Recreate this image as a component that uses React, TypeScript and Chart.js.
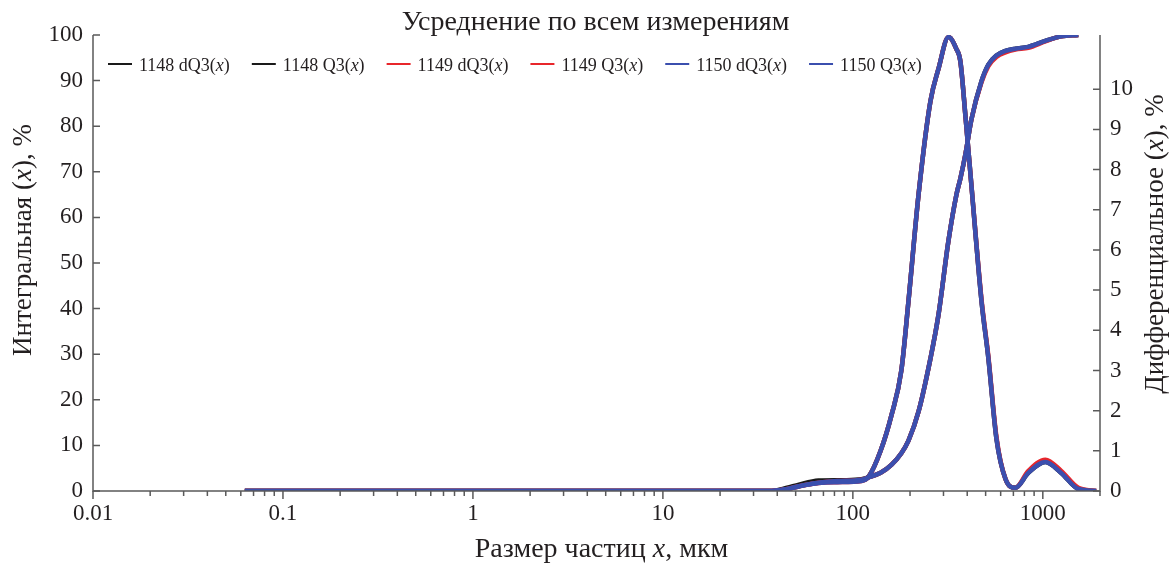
import React, { useEffect, useRef } from 'react';
import { Chart, registerables } from 'chart.js';

Chart.register(...registerables);

const chartTitle = 'Усреднение по всем измерениям';
const xAxisTitle = 'Размер частиц x, мкм';
const leftAxisTitle = 'Интегральная (x), %';
const rightAxisTitle = 'Дифференциальное (x), %';

// particle size, µm
const sizes = [0.063, 37.4, 45, 52, 66, 83, 111, 121, 140, 160, 180, 196, 222, 256, 282, 319, 351, 368, 392, 421, 475, 517, 570, 636, 717, 839, 1031, 1250, 1538, 1910];

// differential dQ3, % (right axis)
const dQ3_1148 = [0, 0, 0.08, 0.16, 0.26, 0.27, 0.27, 0.36, 1.0, 1.9, 3.0, 4.7, 7.4, 9.7, 10.5, 11.3, 11.0, 10.7, 9.3, 7.6, 4.75, 3.3, 1.3, 0.3, 0.08, 0.45, 0.72, 0.45, 0.05, 0];
const dQ3_1149 = [0, 0, 0.05, 0.12, 0.2, 0.22, 0.25, 0.35, 1.0, 1.9, 3.0, 4.7, 7.4, 9.7, 10.5, 11.3, 11.0, 10.7, 9.3, 7.6, 4.8, 3.35, 1.35, 0.3, 0.08, 0.5, 0.78, 0.5, 0.08, 0];
const dQ3_1150 = [0, 0, 0.05, 0.12, 0.2, 0.22, 0.25, 0.35, 1.0, 1.9, 3.0, 4.7, 7.4, 9.7, 10.5, 11.3, 11.0, 10.7, 9.3, 7.6, 4.75, 3.3, 1.3, 0.3, 0.08, 0.45, 0.72, 0.45, 0.05, 0];

// cumulative Q3, % (left axis)
const Q3_1148 = [0, 0, 0.5, 1.1, 1.9, 2.3, 2.6, 3.0, 4.0, 5.8, 8.3, 11, 17.5, 29, 38.5, 55, 65, 68.5, 74, 81.5, 89.8, 93.5, 95.5, 96.5, 97, 97.4, 98.7, 99.7, 100, null];
const Q3_1149 = [0, 0, 0.4, 1.0, 1.8, 2.2, 2.5, 3.0, 4.0, 5.8, 8.3, 11, 17.5, 29, 38.5, 55, 65, 68.5, 74, 81.5, 89.6, 93.2, 95.2, 96.2, 96.8, 97.2, 98.6, 99.7, 100, null];
const Q3_1150 = [0, 0, 0.4, 1.0, 1.8, 2.2, 2.5, 3.0, 4.0, 5.8, 8.3, 11, 17.5, 29, 38.5, 55, 65, 68.5, 74, 81.5, 89.8, 93.5, 95.5, 96.5, 97, 97.4, 98.7, 99.7, 100, null];

const seriesNames = ['1148 dQ3(x)', '1148 Q3(x)', '1149 dQ3(x)', '1149 Q3(x)', '1150 dQ3(x)', '1150 Q3(x)'];
const seriesColors = ['#1a1a1a', '#1a1a1a', '#e8262b', '#e8262b', '#3b4fae', '#3b4fae'];

const xTickValues = [0.01, 0.1, 1, 10, 100, 1000];
const xTickLabels = ['0.01', '0.1', '1', '10', '100', '1000'];
const leftTickValues = [0, 10, 20, 30, 40, 50, 60, 70, 80, 90, 100];
const rightTickValues = [0, 1, 2, 3, 4, 5, 6, 7, 8, 9, 10];

const FONT = "'Liberation Serif', 'Times New Roman', serif";
const TEXT = '#231f20';
const AXIS = '#5a5a5a';

function splitRich(s: string) {
  const parts: { t: string; i: boolean }[] = [];
  let cur = '';
  const isLatin = (c: string | undefined) => !!c && /[A-Za-z]/.test(c);
  for (let k = 0; k < s.length; k++) {
    const c = s[k];
    if (c === 'x' && !isLatin(s[k - 1]) && !isLatin(s[k + 1])) {
      if (cur) parts.push({ t: cur, i: false });
      parts.push({ t: 'x', i: true });
      cur = '';
    } else cur += c;
  }
  if (cur) parts.push({ t: cur, i: false });
  return parts;
}

function drawRich(ctx: CanvasRenderingContext2D, text: string, x: number, y: number, size: number, align: 'left' | 'center', baseline: CanvasTextBaseline = 'middle') {
  const parts = splitRich(text);
  const fontOf = (it: boolean) => `${it ? 'italic ' : ''}${size}px ${FONT}`;
  let total = 0;
  for (const p of parts) {
    ctx.font = fontOf(p.i);
    total += ctx.measureText(p.t).width;
  }
  let cx = align === 'center' ? x - total / 2 : x;
  ctx.textAlign = 'left';
  ctx.textBaseline = baseline;
  for (const p of parts) {
    ctx.font = fontOf(p.i);
    ctx.fillText(p.t, cx, y);
    cx += ctx.measureText(p.t).width;
  }
  return total;
}

const decorPlugin = {
  id: 'decor',
  afterDraw(chart: any) {
    const ctx: CanvasRenderingContext2D = chart.ctx;
    const a = chart.chartArea;
    const xs = chart.scales.x;
    const yl = chart.scales.y;
    const yr = chart.scales.y1;
    ctx.save();
    ctx.strokeStyle = AXIS;
    ctx.lineWidth = 1.5;
    // axis lines
    ctx.beginPath();
    ctx.moveTo(a.left, a.top);
    ctx.lineTo(a.left, a.bottom);
    ctx.lineTo(a.right, a.bottom);
    ctx.lineTo(a.right, a.top);
    ctx.stroke();
    // left ticks (inward)
    ctx.beginPath();
    for (const v of leftTickValues) {
      const y = yl.getPixelForValue(v);
      ctx.moveTo(a.left, y);
      ctx.lineTo(a.left + 7, y);
    }
    // right ticks (inward)
    for (const v of rightTickValues) {
      const y = yr.getPixelForValue(v);
      ctx.moveTo(a.right - 7, y);
      ctx.lineTo(a.right, y);
    }
    // x ticks (outward), major + minor
    for (let e = -2; e <= 3; e++) {
      for (let m = 1; m <= 9; m++) {
        const v = m * Math.pow(10, e);
        if (v > xs.max) continue;
        const x = xs.getPixelForValue(v);
        ctx.moveTo(x, a.bottom);
        ctx.lineTo(x, a.bottom + (m === 1 ? 8 : 5));
      }
    }
    ctx.stroke();

    ctx.fillStyle = TEXT;
    const midX = (a.left + a.right) / 2;
    // chart title
    drawRich(ctx, chartTitle, midX - 1, 30, 28, 'center', 'alphabetic');
    // x axis title
    drawRich(ctx, xAxisTitle, midX + 5, 557, 28, 'center', 'alphabetic');
    // left axis title
    ctx.save();
    ctx.translate(24, 240);
    ctx.rotate(-Math.PI / 2);
    drawRich(ctx, leftAxisTitle, 0, 0, 27, 'center');
    ctx.restore();
    // right axis title
    ctx.save();
    ctx.translate(1156, 244);
    ctx.rotate(-Math.PI / 2);
    drawRich(ctx, rightAxisTitle, 0, 0, 27, 'center');
    ctx.restore();

    // legend
    let lx = 108;
    const ly = 64;
    for (let i = 0; i < seriesNames.length; i++) {
      ctx.strokeStyle = seriesColors[i];
      ctx.lineWidth = 2;
      ctx.beginPath();
      ctx.moveTo(lx, ly);
      ctx.lineTo(lx + 24, ly);
      ctx.stroke();
      ctx.fillStyle = TEXT;
      const w = drawRich(ctx, seriesNames[i], lx + 31, ly + 2, 18, 'left');
      lx += 31 + w + 22;
    }
    ctx.restore();
  },
};

export default function App() {
  const ref = useRef<HTMLCanvasElement | null>(null);
  useEffect(() => {
    if (!ref.current) return;
    const mk = (vals: (number | null)[]) => sizes.map((s, i) => ({ x: s, y: vals[i] }));
    const seriesData = [dQ3_1148, Q3_1148, dQ3_1149, Q3_1149, dQ3_1150, Q3_1150];
    const orders = [3, 3, 2, 2, 1, 1];
    const datasets = seriesData.map((vals, i) => ({
      label: seriesNames[i],
      data: mk(vals),
      borderColor: seriesColors[i],
      backgroundColor: seriesColors[i],
      borderWidth: 4.5,
      pointRadius: 0,
      cubicInterpolationMode: 'monotone' as const,
      yAxisID: i % 2 === 0 ? 'y1' : 'y',
      order: orders[i],
      spanGaps: false,
    }));
    const tickFont = { family: FONT, size: 23 };
    const chart = new Chart(ref.current, {
      type: 'line',
      data: { datasets },
      options: {
        animation: false,
        responsive: false,
        layout: { padding: { top: 35, left: 0, right: 0, bottom: 0 } },
        plugins: { legend: { display: false }, title: { display: false }, tooltip: { enabled: false } },
        scales: {
          x: {
            type: 'logarithmic',
            min: 0.01,
            max: 2000,
            grid: { display: false, drawTicks: false },
            border: { display: false },
            afterBuildTicks: (s: any) => { s.ticks = xTickValues.map((v) => ({ value: v })); },
            ticks: {
              autoSkip: false,
              maxRotation: 0,
              padding: 9,
              color: TEXT,
              font: tickFont,
              callback: (v: any) => xTickLabels[xTickValues.indexOf(Number(v))] ?? '',
            },
            afterFit: (s: any) => { s.height = 77; },
          },
          y: {
            position: 'left',
            min: 0,
            max: 100,
            grid: { display: false, drawTicks: false },
            border: { display: false },
            afterBuildTicks: (s: any) => { s.ticks = leftTickValues.map((v) => ({ value: v })); },
            ticks: { padding: 10, color: TEXT, font: tickFont },
            afterFit: (s: any) => { s.width = 93; },
          },
          y1: {
            position: 'right',
            min: 0,
            max: 11.35,
            grid: { display: false, drawTicks: false },
            border: { display: false },
            afterBuildTicks: (s: any) => { s.ticks = rightTickValues.map((v) => ({ value: v })); },
            ticks: { padding: 10, color: TEXT, font: tickFont },
            afterFit: (s: any) => { s.width = 70; },
          },
        },
      },
      plugins: [decorPlugin],
    });
    return () => chart.destroy();
  }, []);
  return (
    <div style={{ position: 'absolute', left: 0, top: 0, width: 1170, height: 568, background: '#fff' }}>
      <canvas ref={ref} width={1170} height={568} style={{ display: 'block' }} />
    </div>
  );
}
